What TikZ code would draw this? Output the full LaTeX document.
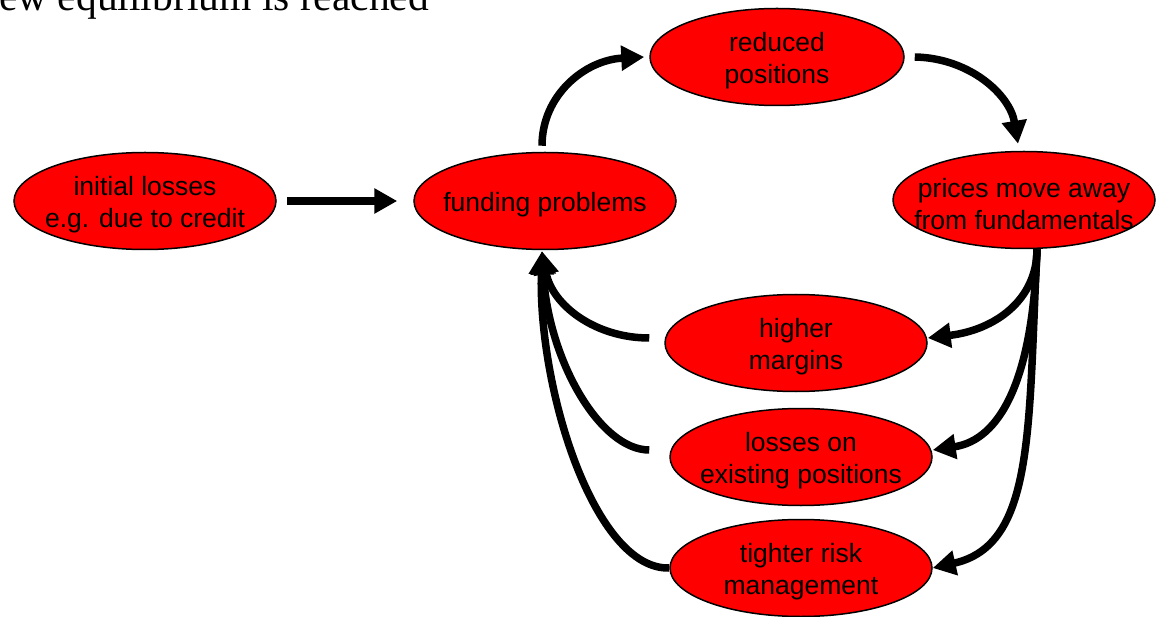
\documentclass[tikz,border=0pt]{standalone}
\usepackage{fontspec}
\setmainfont{Liberation Sans}
\newfontfamily\serifface{Liberation Serif}
\usetikzlibrary{shapes.geometric,arrows.meta}
\tikzset{
  ell/.style={ellipse, draw=black, line width=1.5pt, fill=red, inner sep=0pt,
    minimum width=262pt, minimum height=97pt},
  lbl/.style={align=center, inner sep=0pt, text=black, yshift=-4pt,
    font=\fontsize{26.5}{32}\selectfont},
  conn/.style={line width=7.5pt, -{Triangle[length=23pt,width=24pt]}}
}
\begin{document}
\begin{tikzpicture}[x=1pt,y=-1pt]
\useasboundingbox (0,0) rectangle (1156,617);
\clip (0,0) rectangle (1156,617);
\node[anchor=base west, inner sep=0pt, font=\serifface\fontsize{41.5}{41.5}\selectfont] (title) at (-1,11) {ew equilibrium is reached};

\node[ell, label={[lbl]center:initial losses\\e.g. due to credit}] (initial) at (145,201) {};
\node[ell, label={[lbl]center:funding problems}] (funding) at (545,201) {};
\node[ell, minimum width=254pt, label={[lbl]center:reduced\\positions}] (reduced) at (777,57) {};
\node[ell, label={[lbl]center:prices move away\\from fundamentals}] (prices) at (1024,200) {};
\node[ell, label={[lbl]center:higher\\margins}] (margins) at (796,343) {};
\node[ell, label={[lbl]center:losses on\\existing positions}] (losses) at (801,457) {};
\node[ell, label={[lbl]center:tighter risk\\management}] (tighter) at (801,568) {};

\draw[conn] ([xshift=10pt]initial.east) -- ([xshift=-16pt]funding.west);
\draw[conn] ([xshift=-3pt,yshift=6pt]funding.north) .. controls (542,95) and (585,60) .. ([xshift=-5pt]reduced.west);
\draw[conn] ([xshift=10pt]reduced.east) .. controls (970,58) and (1010,95) .. ([xshift=-6pt,yshift=7pt]prices.north);

\draw[conn] ([xshift=13pt]prices.south) .. controls (1037,300) and (995,330) .. ([yshift=5pt]margins.east);
\draw[conn] ([xshift=13pt]prices.south) .. controls (1033,380) and (1000,440) .. ([yshift=7pt]losses.east);
\draw[conn] ([xshift=13pt]prices.south) .. controls (1028,430) and (1035,545) .. (tighter.east);

\draw[conn] ([xshift=-15pt,yshift=5pt]margins.west) .. controls (595,338) and (552,305) .. ([xshift=-3pt,yshift=-1pt]funding.south);
\draw[conn] ([xshift=-20pt,yshift=7pt]losses.west) .. controls (600,450) and (548,360) .. ([xshift=-3pt,yshift=-1pt]funding.south);
\draw[conn] (tighter.west) .. controls (595,570) and (538,390) .. ([xshift=-3pt,yshift=-1pt]funding.south);
\end{tikzpicture}
\end{document}
